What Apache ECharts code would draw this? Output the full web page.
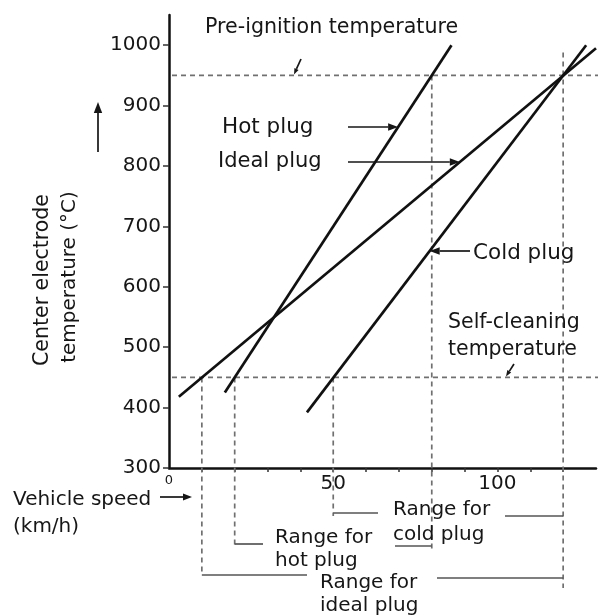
<!DOCTYPE html>
<html>
<head>
<meta charset="utf-8">
<script src="https://cdn.jsdelivr.net/npm/echarts@6/dist/echarts.min.js"></script>
<style>
  html, body { margin: 0; padding: 0; background: #fff; }
  #chart { width: 598px; height: 616px; }
</style>
</head>
<body>
<div id="chart"></div>
<script>
// Centre electrode temperature (°C) against vehicle speed (km/h) for three spark plugs.
const hotPlug = [[17, 425], [86, 1000]];
const idealPlug = [[3, 418], [130, 995]];
const coldPlug = [[42, 392], [127, 1000]];

// Temperature limits
const preIgnitionTemp = 950;
const selfCleaningTemp = 450;

// Usable speed ranges (km/h)
const hotRange = [20, 80];
const coldRange = [50, 120];
const idealRange = [10, 120];

// Axis ticks and labels
const tempTicks = [300, 400, 500, 600, 700, 800, 900, 1000];
const speedTicks = [10, 20, 30, 40, 50, 60, 70, 80, 90, 100, 110, 120];
const speedLabels = [0, 50, 100];

const FONT = 'DejaVu Sans';
const INK = '#161616';
const DASH = '#707070';

const chart = echarts.init(document.getElementById('chart'), null, { renderer: 'canvas' });

const plugLine = (name, data) => ({
  name, type: 'line', data, symbol: 'none', silent: true, z: 3,
  lineStyle: { color: '#111', width: 2.7 }
});

chart.setOption({
  animation: false,
  backgroundColor: '#fff',
  grid: { left: 169, right: 2, top: 15, bottom: 148 },
  xAxis: {
    type: 'value', min: 0, max: 130, interval: 10,
    axisLine: { lineStyle: { color: '#111', width: 2.5 } },
    axisTick: { show: true, length: 4, customValues: speedTicks, lineStyle: { color: '#333', width: 1.5 } },
    axisLabel: {
      customValues: speedLabels, margin: 6, fontFamily: FONT, fontSize: 20, color: INK,
      formatter: v => (v === 0 ? '{z|0}' : String(v)),
      rich: { z: { fontFamily: FONT, fontSize: 13, color: INK } }
    },
    splitLine: { show: false }
  },
  yAxis: {
    type: 'value', min: 300, max: 1050, interval: 100,
    axisLine: { show: true, lineStyle: { color: '#111', width: 2.5 } },
    axisTick: { show: true, length: 6, customValues: tempTicks, lineStyle: { color: '#333', width: 1.5 } },
    axisLabel: {
      customValues: tempTicks, margin: 8, fontFamily: FONT, fontSize: 20, color: INK,
      formatter: v => String(v)
    },
    splitLine: { show: false }
  },
  series: [
    plugLine('Hot plug', hotPlug),
    plugLine('Ideal plug', idealPlug),
    plugLine('Cold plug', coldPlug)
  ]
});

// ---- annotations: limit lines, speed-range brackets, labels and arrows ----
const px = (x, y) => chart.convertToPixel({ gridIndex: 0 }, [x, y]);
const origin = px(0, 300);
const axisX = origin[0];
const axisY = origin[1];
const X = v => px(v, 300)[0];
const Y = v => px(0, v)[1];
const yPre = Y(preIgnitionTemp);
const ySelf = Y(selfCleaningTemp);

// pixel x where a plug line reaches the pixel row y
function tipOn(line, rowY) {
  const t = chart.convertFromPixel({ gridIndex: 0 }, [axisX, rowY])[1];
  const [a, b] = line;
  const s = a[0] + (t - a[1]) * (b[0] - a[0]) / (b[1] - a[1]);
  return X(s);
}

const dashed = (x1, y1, x2, y2) => ({
  type: 'line', silent: true, z: 1,
  shape: { x1, y1, x2, y2 },
  style: { stroke: DASH, lineWidth: 1.7, lineDash: [5, 4] }
});
const stub = (x1, y1, x2, y2) => ({
  type: 'line', silent: true, z: 1,
  shape: { x1, y1, x2, y2 },
  style: { stroke: '#555', lineWidth: 1.7 }
});
const label = (text, x, y, size) => ({
  type: 'text', silent: true, z: 5, x, y,
  style: { text, font: (size || 20) + 'px "' + FONT + '"', fill: INK, textAlign: 'left', textVerticalAlign: 'middle' }
});
function arrow(x1, y1, x2, y2, head, w) {
  head = head || 8; w = w || 1.7;
  const ang = Math.atan2(y2 - y1, x2 - x1);
  const hx = x2 - head * Math.cos(ang), hy = y2 - head * Math.sin(ang);
  const nx = -Math.sin(ang) * head * 0.38, ny = Math.cos(ang) * head * 0.38;
  return [
    { type: 'line', silent: true, z: 4, shape: { x1, y1, x2: hx, y2: hy }, style: { stroke: INK, lineWidth: w } },
    { type: 'polygon', silent: true, z: 4, shape: { points: [[x2, y2], [hx + nx, hy + ny], [hx - nx, hy - ny]] }, style: { fill: INK } }
  ];
}

const coldLevel = axisY + 45;
const hotLevel = axisY + 76;
const idealLevel = axisY + 107;

const hotRow = 127, idealRow = 162, coldRow = 251;

const elements = [
  // temperature limits
  dashed(axisX + 3, yPre, 598, yPre),
  dashed(axisX + 3, ySelf, 598, ySelf),
  // range boundaries
  dashed(X(idealRange[0]), ySelf, X(idealRange[0]), idealLevel),
  dashed(X(hotRange[0]), ySelf, X(hotRange[0]), hotLevel + 4),
  dashed(X(coldRange[0]), ySelf, X(coldRange[0]), coldLevel + 3),
  dashed(X(hotRange[1]), yPre, X(hotRange[1]), hotLevel + 8),
  dashed(X(coldRange[1]), yPre - 23, X(coldRange[1]), idealLevel + 13),
  // bracket stubs
  stub(X(hotRange[0]), hotLevel, 263, hotLevel),
  stub(395, hotLevel + 2, X(hotRange[1]), hotLevel + 2),
  stub(X(coldRange[0]), coldLevel, 378, coldLevel),
  stub(505, coldLevel + 3, X(coldRange[1]), coldLevel + 3),
  stub(X(idealRange[0]), idealLevel, 307, idealLevel),
  stub(437, idealLevel + 3, X(idealRange[1]), idealLevel + 3),
  // texts
  label('Pre-ignition temperature', 205, 28, 20.6),
  label('Hot plug', 222, hotRow, 21.5),
  label('Ideal plug', 218, idealRow, 21),
  label('Cold plug', 473, coldRow + 2, 21.5),
  label('Self-cleaning', 448, 323, 20.5),
  label('temperature', 448, 350, 20.5),
  label('Vehicle speed', 13, 500),
  label('(km/h)', 13, 527),
  label('Range for', 393, 510),
  label('cold plug', 393, 535),
  label('Range for', 275, 538),
  label('hot plug', 275, 561),
  label('Range for', 320, 583),
  label('ideal plug', 320, 606),
  // y-axis title, two rotated lines
  {
    type: 'text', silent: true, z: 5, x: 43, y: 280, rotation: Math.PI / 2,
    style: { text: 'Center electrode', font: '20.5px "' + FONT + '"', fill: INK, textAlign: 'center', textVerticalAlign: 'middle' }
  },
  {
    type: 'text', silent: true, z: 5, x: 70, y: 277, rotation: Math.PI / 2,
    style: { text: 'temperature (°C)', font: '20px "' + FONT + '"', fill: INK, textAlign: 'center', textVerticalAlign: 'middle' }
  },
  // arrows
  ...arrow(301, 59, 294, yPre - 1, 6),
  ...arrow(514, 364, 506, ySelf - 1, 6),
  ...arrow(348, hotRow, tipOn(hotPlug, hotRow), hotRow, 10),
  ...arrow(348, idealRow, tipOn(idealPlug, idealRow), idealRow, 10),
  ...arrow(470, coldRow, tipOn(coldPlug, coldRow), coldRow, 10),
  ...arrow(160, 497, 192, 497, 9),
  ...arrow(98, 152, 98, 102, 11)
];

chart.setOption({ graphic: { elements } });
</script>
</body>
</html>
